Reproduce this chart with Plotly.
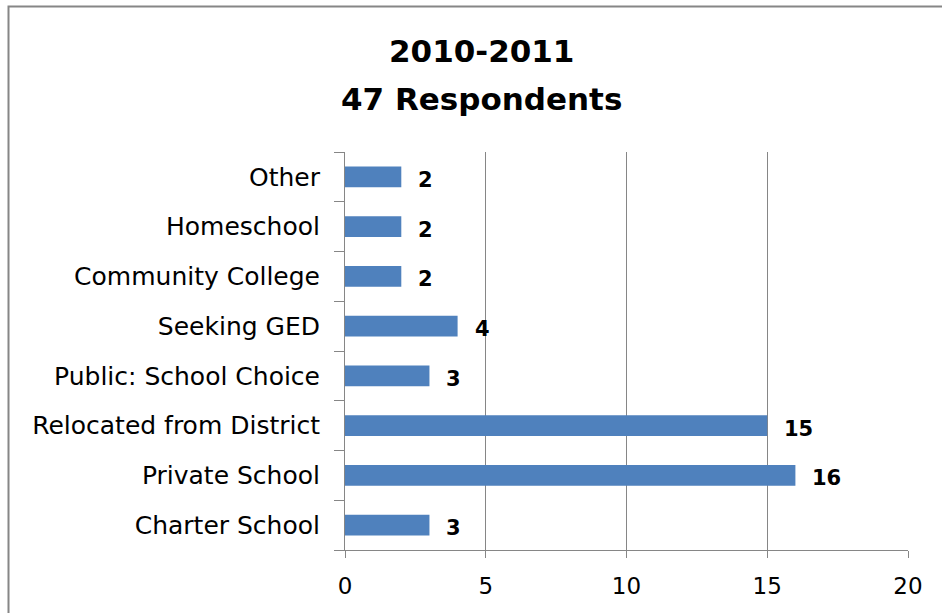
import plotly.graph_objects as go

# Survey responses, listed bottom to top on the chart
categories = [
    "Charter School",
    "Private School",
    "Relocated from District",
    "Public: School Choice",
    "Seeking GED",
    "Community College",
    "Homeschool",
    "Other",
]
counts = [3, 16, 15, 3, 4, 2, 2, 2]
x_ticks = [0, 5, 10, 15, 20]
title_lines = ["2010-2011", "47 Respondents"]

BAR_BLUE = "#4F81BD"
GRID_GRAY = "#868686"
FONT = "DejaVu Sans"

W, H = 942, 613
L, R, T, B = 345, 34, 152, 63
plot_w = W - L - R
plot_h = H - T - B


def px_to_paper_x(px):
    return (px - L) / plot_w


def px_to_paper_y(py):
    return (H - B - py) / plot_h


fig = go.Figure(
    go.Bar(
        x=counts,
        y=categories,
        orientation="h",
        marker=dict(color=BAR_BLUE, line=dict(width=0)),
        hoverinfo="skip",
    )
)

# Bold value labels just past the end of each bar
for cat, val in zip(categories, counts):
    fig.add_annotation(
        x=val, y=cat, xref="x", yref="y",
        text=f"<b>{val}</b>", showarrow=False,
        xanchor="left", yanchor="middle", xshift=15, yshift=-3,
        font=dict(family=FONT, size=21, color="#000000"),
    )

# Two-line chart title
title_y_px = [51, 99]
for line, ypx in zip(title_lines, title_y_px):
    fig.add_annotation(
        x=px_to_paper_x(481), y=px_to_paper_y(ypx), xref="paper", yref="paper",
        text=f"<b>{line}</b>", showarrow=False,
        xanchor="center", yanchor="middle",
        font=dict(family=FONT, size=31, color="#000000"),
    )

# Chart frame
fig.add_shape(
    type="rect", xref="paper", yref="paper",
    x0=px_to_paper_x(8.5), x1=px_to_paper_x(W + 10),
    y0=px_to_paper_y(H + 10), y1=px_to_paper_y(6.5),
    line=dict(color=GRID_GRAY, width=2), fillcolor="rgba(0,0,0,0)",
    layer="above",
)

fig.update_layout(
    width=W, height=H,
    margin=dict(l=L, r=R, t=T, b=B, pad=0),
    paper_bgcolor="white", plot_bgcolor="white",
    bargap=0.58,
    showlegend=False,
    font=dict(family=FONT, size=24, color="#000000"),
    xaxis=dict(
        range=[0, 20], tickvals=x_ticks, ticktext=[str(v) for v in x_ticks],
        showgrid=True, gridcolor=GRID_GRAY, gridwidth=1,
        showline=True, linecolor=GRID_GRAY, linewidth=1,
        ticks="outside", ticklen=7, tickcolor=GRID_GRAY,
        ticklabelstandoff=8,
        zeroline=False, fixedrange=True,
        tickfont=dict(family=FONT, size=23, color="#000000"),
    ),
    yaxis=dict(
        type="category", categoryorder="array", categoryarray=categories,
        showgrid=False, showline=True, linecolor=GRID_GRAY, linewidth=1,
        ticks="outside", ticklen=10, tickcolor=GRID_GRAY, tickson="boundaries",
        ticklabelstandoff=19, fixedrange=True,
        tickfont=dict(family=FONT, size=25, color="#000000"),
    ),
)

fig.write_html("out.html", config=dict(displayModeBar=False))
